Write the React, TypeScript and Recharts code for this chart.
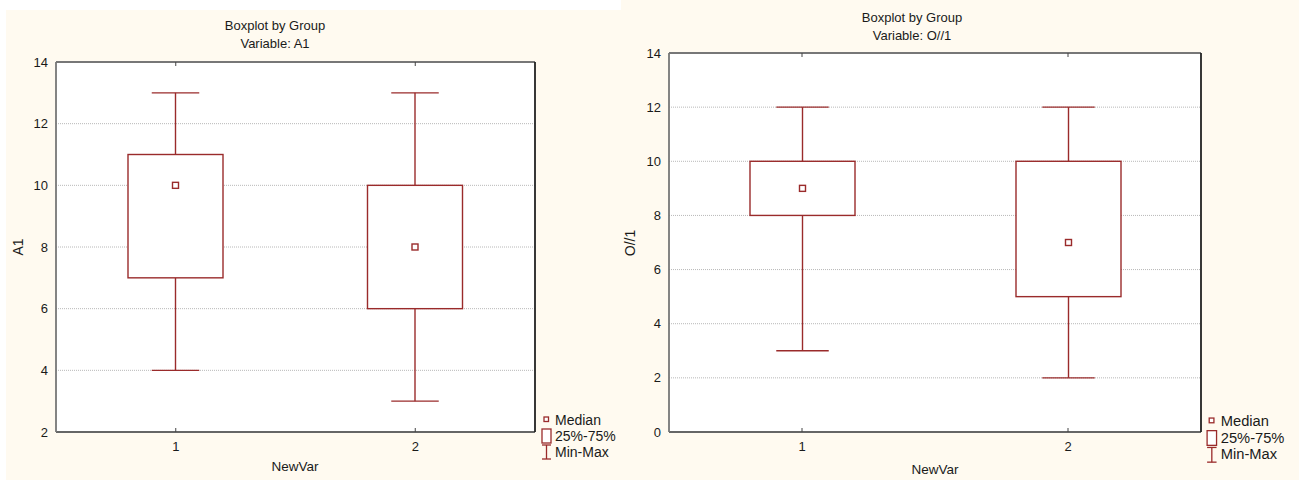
import React from 'react';
import { ComposedChart, Bar, XAxis, YAxis, CartesianGrid } from 'recharts';

// ---- data ----
const groups = ['1', '2'];

const a1Min = [4, 3];
const a1Q1 = [7, 6];
const a1Median = [10, 8];
const a1Q3 = [11, 10];
const a1Max = [13, 13];
const a1Ticks = [2, 4, 6, 8, 10, 12, 14];

const o1Min = [3, 2];
const o1Q1 = [8, 5];
const o1Median = [9, 7];
const o1Q3 = [10, 10];
const o1Max = [12, 12];
const o1Ticks = [0, 2, 4, 6, 8, 10, 12, 14];

const legendLabels = ['Median', '25%-75%', 'Min-Max'];

const build = (mn: number[], q1: number[], md: number[], q3: number[], mx: number[]) =>
  groups.map((g, i) => ({ name: g, min: mn[i], q1: q1[i], median: md[i], q3: q3[i], max: mx[i] }));

const a1Data = build(a1Min, a1Q1, a1Median, a1Q3, a1Max);
const o1Data = build(o1Min, o1Q1, o1Median, o1Q3, o1Max);

const BOX = '#9a2b2b';
const FONT = '"Liberation Sans", Arial, sans-serif';
const CREAM = '#fffaf0';
const TEXT = '#1a1a1a';

const BoxShape = (props: any) => {
  const { x, y, width, height, payload } = props;
  if (!payload) return null;
  const top = Math.min(y, y + height);
  const h = Math.abs(height);
  const { min, max, q1, q3, median } = payload;
  const py = (v: number) => top + (h * (max - v)) / (max - min);
  const cx = x + width / 2;
  const cap = width / 4;
  return (
    <g fill="none" stroke={BOX} strokeWidth={1.4}>
      <line x1={cx} x2={cx} y1={py(max)} y2={py(q3)} />
      <line x1={cx} x2={cx} y1={py(q1)} y2={py(min)} />
      <line x1={cx - cap} x2={cx + cap} y1={py(max)} y2={py(max)} />
      <line x1={cx - cap} x2={cx + cap} y1={py(min)} y2={py(min)} />
      <rect x={x} y={py(q3)} width={width} height={py(q1) - py(q3)} fill="#fff" />
      <rect x={cx - 3} y={py(median) - 3} width={6} height={6} fill="#fff" />
    </g>
  );
};

const Empty = () => <g />;

type PanelProps = {
  data: any[];
  ticks: number[];
  domain: [number, number];
  width: number;
  height: number;
  margin: { top: number; right: number; bottom: number; left: number };
  barSize: number;
};

const Panel = ({ data, ticks, domain, width, height, margin, barSize }: PanelProps) => (
  <ComposedChart width={width} height={height} data={data} margin={margin} barCategoryGap={0}>
    <CartesianGrid vertical={false} stroke="#b8b8b8" strokeDasharray="1 1" fill="#ffffff" fillOpacity={1} />
    <XAxis
      dataKey="name"
      xAxisId={0}
      height={30}
      tickLine={false}
      tickSize={0}
      tickMargin={10}
      axisLine={{ stroke: '#666', strokeWidth: 1.8 }}
      tick={{ fill: TEXT, fontSize: 13, fontFamily: FONT }}
    />
    <XAxis
      dataKey="name"
      xAxisId="top"
      orientation="top"
      mirror
      tick={Empty}
      tickSize={4}
      tickLine={{ stroke: '#444' }}
      axisLine={{ stroke: '#777', strokeWidth: 1.8 }}
    />
    <XAxis
      dataKey="name"
      xAxisId="bm"
      orientation="bottom"
      mirror
      tick={Empty}
      tickSize={4}
      tickLine={{ stroke: '#444' }}
      axisLine={false}
    />
    <YAxis
      yAxisId={0}
      type="number"
      domain={domain}
      ticks={ticks}
      interval={0}
      width={40}
      tickLine={false}
      tickSize={0}
      tickMargin={8}
      axisLine={{ stroke: '#777', strokeWidth: 1.8 }}
      tick={{ fill: TEXT, fontSize: 13, fontFamily: FONT }}
    />
    <YAxis
      yAxisId="lm"
      type="number"
      orientation="left"
      mirror
      domain={domain}
      ticks={ticks}
      interval={0}
      tick={Empty}
      tickSize={4}
      tickLine={{ stroke: '#444' }}
      axisLine={false}
    />
    <YAxis
      yAxisId="r"
      type="number"
      orientation="right"
      mirror
      domain={domain}
      ticks={ticks}
      interval={0}
      tick={Empty}
      tickSize={4}
      tickLine={{ stroke: '#444' }}
      axisLine={{ stroke: '#222', strokeWidth: 1.8 }}
    />
    <Bar
      dataKey={(d: any) => [d.min, d.max]}
      xAxisId={0}
      yAxisId={0}
      barSize={barSize}
      shape={BoxShape}
      isAnimationActive={false}
    />
  </ComposedChart>
);

const txt: React.CSSProperties = {
  position: 'absolute',
  fontFamily: FONT,
  color: TEXT,
  whiteSpace: 'nowrap',
  lineHeight: 1,
};

const Centered = ({ x, y, size, children, rotate }: any) => (
  <div
    style={{
      ...txt,
      left: x,
      top: y,
      fontSize: size,
      transform: `translate(-50%, -50%)${rotate ? ' rotate(-90deg)' : ''}`,
    }}
  >
    {children}
  </div>
);

const Legend = ({ x, y, s }: { x: number; y: number; s: number }) => (
  <div style={{ position: 'absolute', left: x, top: y }}>
    <svg width={14 * s} height={46 * s} style={{ position: 'absolute', left: 0, top: 0 }}>
      <g fill="none" stroke={BOX} strokeWidth={1.3}>
        <rect x={4 * s} y={1 * s} width={4.5 * s} height={4.5 * s} fill="#fff" />
        <rect x={2 * s} y={13 * s} width={9 * s} height={14 * s} fill="#fff" />
        <line x1={6.5 * s} x2={6.5 * s} y1={29 * s} y2={43 * s} />
        <line x1={2 * s} x2={11 * s} y1={29 * s} y2={29 * s} />
        <line x1={2 * s} x2={11 * s} y1={43 * s} y2={43 * s} />
      </g>
    </svg>
    {legendLabels.map((l, i) => (
      <div
        key={l}
        style={{
          ...txt,
          left: 15 * s,
          top: (4 + i * 15.8) * s,
          fontSize: 14 * s,
          transform: 'translateY(-50%)',
        }}
      >
        {l}
      </div>
    ))}
  </div>
);

export default function App() {
  return (
    <div style={{ position: 'fixed', left: 0, top: 0, width: 1299, height: 480, background: '#ffffff', overflow: 'hidden' }}>
      {/* left panel */}
      <div style={{ position: 'absolute', left: 6, top: 10, width: 615, height: 470, background: CREAM }}>
        <Panel
          data={a1Data}
          ticks={a1Ticks}
          domain={[2, 14]}
          width={615}
          height={470}
          margin={{ top: 52, right: 86, bottom: 18, left: 10 }}
          barSize={95}
        />
      </div>
      {/* right panel */}
      <div style={{ position: 'absolute', left: 621, top: 0, width: 678, height: 480, background: CREAM }}>
        <Panel
          data={o1Data}
          ticks={o1Ticks}
          domain={[0, 14]}
          width={678}
          height={480}
          margin={{ top: 53, right: 98, bottom: 18, left: 8 }}
          barSize={105}
        />
      </div>

      <Centered x={275} y={25} size={13}>Boxplot by Group</Centered>
      <Centered x={275} y={43} size={13}>Variable: A1</Centered>
      <Centered x={18} y={247} size={14} rotate>A1</Centered>
      <Centered x={295} y={467} size={13.5}>NewVar</Centered>
      <Legend x={540} y={416} s={1} />

      <Centered x={912} y={17} size={13}>Boxplot by Group</Centered>
      <Centered x={912} y={35} size={13}>Variable: O//1</Centered>
      <Centered x={630} y={243} size={14} rotate>O//1</Centered>
      <Centered x={935} y={470} size={13.5}>NewVar</Centered>
      <Legend x={1205} y={417} s={1.05} />
    </div>
  );
}
